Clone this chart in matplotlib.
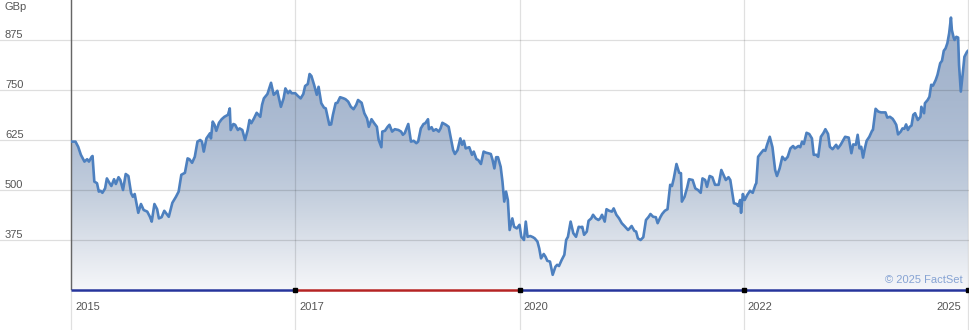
import numpy as np
import matplotlib
matplotlib.use('Agg')
import matplotlib.pyplot as plt
from matplotlib.colors import LinearSegmentedColormap
from matplotlib.patches import Polygon
from matplotlib.transforms import blended_transform_factory

# Fechas en años decimales y precio de cierre (GBp)
fechas = [
    2015.20, 2015.25, 2015.28, 2015.31, 2015.35, 2015.38, 2015.40, 2015.43, 2015.44, 2015.46,
    2015.49, 2015.51, 2015.53, 2015.55, 2015.58, 2015.60, 2015.63, 2015.65, 2015.68, 2015.70,
    2015.73, 2015.75, 2015.78, 2015.81, 2015.84, 2015.87, 2015.89, 2015.91, 2015.95, 2015.98,
    2016.01, 2016.05, 2016.08, 2016.10, 2016.13, 2016.16, 2016.18, 2016.21, 2016.24, 2016.26,
    2016.29, 2016.33, 2016.37, 2016.40, 2016.43, 2016.47, 2016.50, 2016.52, 2016.55, 2016.58,
    2016.61, 2016.64, 2016.66, 2016.68, 2016.71, 2016.75, 2016.76, 2016.78, 2016.80, 2016.82,
    2016.85, 2016.88, 2016.91, 2016.95, 2016.97, 2016.98, 2017.01, 2017.03, 2017.06, 2017.08,
    2017.11, 2017.14, 2017.17, 2017.19, 2017.21, 2017.24, 2017.27, 2017.31, 2017.33, 2017.35,
    2017.39, 2017.43, 2017.46, 2017.48, 2017.50, 2017.54, 2017.57, 2017.59, 2017.62, 2017.64,
    2017.66, 2017.70, 2017.73, 2017.76, 2017.79, 2017.81, 2017.84, 2017.86, 2017.88, 2017.91,
    2017.94, 2017.96, 2017.99, 2018.02, 2018.04, 2018.08, 2018.10, 2018.12, 2018.15, 2018.17,
    2018.20, 2018.24, 2018.26, 2018.29, 2018.32, 2018.35, 2018.38, 2018.40, 2018.44, 2018.47,
    2018.50, 2018.52, 2018.55, 2018.58, 2018.61, 2018.63, 2018.66, 2018.67, 2018.70, 2018.73,
    2018.75, 2018.78, 2018.81, 2018.85, 2018.88, 2018.90, 2018.92, 2018.96, 2018.99, 2019.02,
    2019.05, 2019.07, 2019.10, 2019.13, 2019.15, 2019.18, 2019.19, 2019.22, 2019.24, 2019.27,
    2019.30, 2019.32, 2019.34, 2019.38, 2019.41, 2019.43, 2019.46, 2019.48, 2019.51, 2019.54,
    2019.56, 2019.58, 2019.60, 2019.64, 2019.67, 2019.69, 2019.72, 2019.74, 2019.77, 2019.80,
    2019.83, 2019.85, 2019.88, 2019.90, 2019.92, 2019.94, 2019.96, 2019.99, 2020.01, 2020.03,
    2020.05, 2020.07, 2020.09, 2020.12, 2020.14, 2020.17, 2020.20, 2020.22, 2020.25, 2020.27,
    2020.29, 2020.32, 2020.35, 2020.37, 2020.40, 2020.42, 2020.44, 2020.47, 2020.49, 2020.51,
    2020.54, 2020.57, 2020.60, 2020.62, 2020.64, 2020.67, 2020.70, 2020.72, 2020.74, 2020.77,
    2020.80, 2020.83, 2020.86, 2020.88, 2020.90, 2020.92, 2020.95, 2020.97, 2021.00, 2021.02,
    2021.05, 2021.08, 2021.10, 2021.12, 2021.15, 2021.17, 2021.20, 2021.23, 2021.25, 2021.28,
    2021.31, 2021.34, 2021.37, 2021.41, 2021.42, 2021.45, 2021.48, 2021.50, 2021.52, 2021.55,
    2021.58, 2021.61, 2021.64, 2021.66, 2021.69, 2021.72, 2021.74, 2021.77, 2021.79, 2021.82,
    2021.85, 2021.88, 2021.90, 2021.92, 2021.95, 2021.98, 2022.00, 2022.01, 2022.04, 2022.07,
    2022.09, 2022.13, 2022.16, 2022.19, 2022.22, 2022.24, 2022.27, 2022.29, 2022.32, 2022.35,
    2022.38, 2022.42, 2022.45, 2022.48, 2022.50, 2022.53, 2022.55, 2022.59, 2022.62, 2022.64,
    2022.66, 2022.67, 2022.69, 2022.71, 2022.74, 2022.77, 2022.80, 2022.83, 2022.84, 2022.86,
    2022.89, 2022.92, 2022.94, 2022.96, 2022.99, 2023.02, 2023.05, 2023.07, 2023.10, 2023.13,
    2023.16, 2023.19, 2023.22, 2023.25, 2023.27, 2023.31, 2023.33, 2023.35, 2023.37, 2023.40,
    2023.43, 2023.46, 2023.48, 2023.51, 2023.53, 2023.56, 2023.59, 2023.61, 2023.64, 2023.66,
    2023.69, 2023.73, 2023.75, 2023.78, 2023.80, 2023.83, 2023.87, 2023.90, 2023.92, 2023.95,
    2023.97, 2023.99, 2024.01, 2024.03, 2024.05, 2024.07, 2024.10, 2024.13, 2024.14, 2024.17,
    2024.20, 2024.23, 2024.26, 2024.28, 2024.30, 2024.33, 2024.36, 2024.38, 2024.40, 2024.42,
    2024.45, 2024.47, 2024.49, 2024.51, 2024.53, 2024.55, 2024.57, 2024.59, 2024.61, 2024.64,
    2024.67, 2024.68, 2024.71, 2024.72, 2024.75, 2024.77, 2024.79, 2024.81, 2024.84, 2024.86,
    2024.89, 2024.91, 2024.93, 2024.95, 2024.97, 2024.99, 2025.01, 2025.02, 2025.04, 2025.05,
    2025.07, 2025.09, 2025.10, 2025.12, 2025.14, 2025.16, 2025.19, 2025.20,
]

precios = [
    621, 621, 608, 588, 571, 577, 571, 583, 585, 521,
    517, 496, 498, 493, 504, 529, 517, 510, 527, 515,
    532, 525, 500, 540, 535, 492, 483, 490, 443, 465,
    450, 446, 433, 421, 465, 452, 429, 432, 448, 442,
    433, 468, 483, 496, 538, 543, 579, 577, 568, 583,
    621, 625, 621, 596, 629, 642, 629, 671, 663, 648,
    668, 677, 683, 688, 704, 650, 665, 663, 650, 654,
    650, 625, 650, 675, 667, 679, 693, 683, 713, 729,
    740, 768, 738, 742, 748, 708, 729, 754, 742, 748,
    742, 742, 735, 729, 740, 760, 765, 790, 785, 763,
    738, 758, 717, 706, 704, 663, 664, 688, 717, 718,
    732, 729, 727, 721, 708, 702, 713, 725, 718, 692,
    679, 658, 677, 667, 658, 625, 607, 646, 648, 658,
    663, 646, 652, 650, 646, 638, 642, 665, 621, 623,
    617, 621, 654, 665, 667, 677, 652, 657, 648, 652,
    646, 654, 668, 663, 658, 635, 600, 590, 600, 629,
    613, 623, 604, 607, 588, 596, 577, 575, 565, 596,
    593, 592, 590, 575, 554, 582, 582, 558, 521, 471,
    496, 475, 400, 429, 408, 404, 413, 383, 375, 421,
    383, 385, 382, 379, 371, 354, 329, 340, 333, 323,
    321, 288, 308, 313, 310, 325, 338, 375, 383, 421,
    392, 383, 408, 407, 408, 388, 396, 423, 429, 438,
    429, 425, 429, 438, 421, 452, 448, 446, 454, 438,
    429, 417, 410, 400, 402, 410, 398, 396, 379, 375,
    382, 425, 433, 440, 433, 432, 417, 432, 440, 448,
    452, 513, 510, 529, 565, 543, 542, 471, 483, 507,
    527, 525, 504, 500, 493, 529, 525, 508, 535, 532,
    513, 513, 550, 535, 525, 532, 525, 467, 465, 460,
    475, 443, 490, 475, 488, 498, 493, 513, 517, 583,
    592, 600, 598, 613, 633, 607, 550, 535, 554, 583,
    575, 583, 604, 610, 604, 610, 607, 621, 615, 643,
    640, 629, 588, 588, 583, 633, 643, 652, 640, 608,
    602, 613, 604, 613, 621, 633, 631, 592, 614, 613,
    638, 604, 608, 581, 604, 623, 633, 648, 650, 703,
    696, 694, 694, 694, 681, 683, 678, 671, 663, 639,
    646, 654, 653, 664, 650, 658, 661, 688, 692, 675,
    683, 708, 692, 717, 725, 733, 763, 761, 775, 788,
    817, 823, 848, 854, 867, 892, 931, 900, 881, 875,
    883, 881, 813, 746, 788, 833, 846, 848,
]

niveles = [375, 500, 625, 750, 875]
marcas_anios = [2015.2, 2017.7, 2020.2, 2022.7, 2025.2]
etiquetas_anios = ['2015', '2017', '2020', '2022', '2025']

plt.rcParams['font.family'] = ['Liberation Sans', 'DejaVu Sans']

W, H = 970, 330
fig = plt.figure(figsize=(W / 100, H / 100), dpi=100)
ax = fig.add_axes([71 / W, 41 / H, 897 / W, 289 / H])
xmin, xmax = 2015.2, 2025.2
ymin, ymax = 252.5, 975
ax.set_xlim(xmin, xmax)
ax.set_ylim(ymin, ymax)

# degradado bajo la curva
colores = [(0.0, '#f5f6f9'), (0.21, '#d5dce6'), (0.33, '#c3cedd'),
           (0.51, '#afbed4'), (0.65, '#a8b8cf'), (1.0, '#a0b1cb')]
cmap = LinearSegmentedColormap.from_list('fondo', colores)
grad = np.linspace(0, 1, 256).reshape(-1, 1)
im = ax.imshow(grad, extent=[xmin, xmax, ymin, ymax], origin='lower',
               aspect='auto', cmap=cmap, zorder=1)
vertices = [(fechas[0], ymin)] + list(zip(fechas, precios)) + [(fechas[-1], ymin)]
area = Polygon(vertices, closed=True, facecolor='none', edgecolor='none')
ax.add_patch(area)
im.set_clip_path(area)

# cuadrícula (se sale del eje como en el original)
trans_h = blended_transform_factory(fig.transFigure, ax.transData)
trans_v = blended_transform_factory(ax.transData, fig.transFigure)
for v in niveles:
    ax.plot([0, 968 / W], [v, v], transform=trans_h, clip_on=False,
            color='black', alpha=0.13, lw=0.9, zorder=2)
    ax.text(5 / W, v, str(v), transform=trans_h, ha='left', va='bottom',
            fontsize=8, color='#555555')
for a in marcas_anios:
    ax.plot([a, a], [0, 1], transform=trans_v, clip_on=False,
            color='black', alpha=0.12, lw=0.9, zorder=2)

ax.plot(fechas, precios, color='#4d80bf', lw=1.9, zorder=4,
        solid_joinstyle='round')

# barra inferior de periodos
yb = ymin - 2.5
ax.plot([marcas_anios[0], marcas_anios[1]], [yb, yb], color='#26359c', lw=1.8,
        clip_on=False, zorder=5, solid_capstyle='butt')
ax.plot([marcas_anios[1], marcas_anios[2]], [yb, yb], color='#b52424', lw=1.8,
        clip_on=False, zorder=5, solid_capstyle='butt')
ax.plot([marcas_anios[2], marcas_anios[4]], [yb, yb], color='#26359c', lw=1.8,
        clip_on=False, zorder=5, solid_capstyle='butt')
ax.plot(marcas_anios[1:], [yb] * 4, 's', ms=2.2, color='black',
        clip_on=False, zorder=6)

y_etq = 1 - 307 / H
for i, (a, lab) in enumerate(zip(marcas_anios, etiquetas_anios)):
    if i == len(marcas_anios) - 1:
        ax.text(a - 0.078, y_etq, lab, transform=trans_v, ha='right',
                va='center', fontsize=8, color='#555555')
    else:
        ax.text(a + 0.045, y_etq, lab, transform=trans_v, ha='left',
                va='center', fontsize=8, color='#555555')

fig.text(5 / W, 1 - 7 / H, 'GBp', ha='left', va='center', fontsize=8,
         color='#555555')
ax.text(0.994, 0.031, '© 2025 FactSet', transform=ax.transAxes, ha='right',
        va='center', fontsize=8, color='#86a3d3', zorder=6)

for lado in ['top', 'right', 'bottom']:
    ax.spines[lado].set_visible(False)
ax.spines['left'].set_color('#666666')
ax.spines['left'].set_linewidth(1.0)
ax.set_xticks([])
ax.set_yticks([])

fig.savefig('out.png', dpi=100)
